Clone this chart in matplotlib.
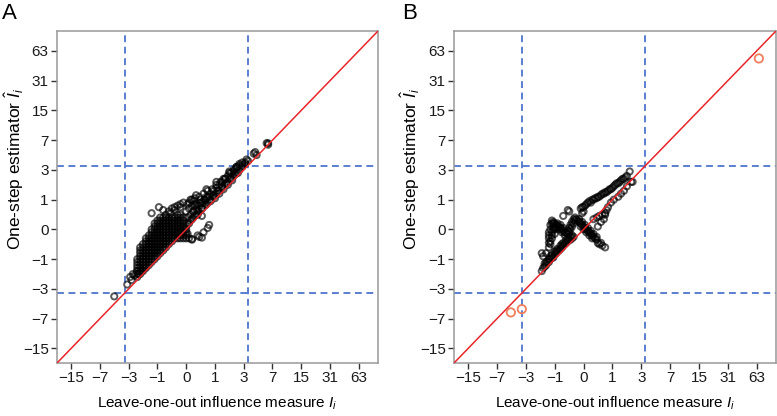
import numpy as np
import matplotlib
matplotlib.use('Agg')
import matplotlib.pyplot as plt

plt.rcParams['font.family'] = ['Liberation Sans', 'DejaVu Sans']
plt.rcParams['mathtext.fontset'] = 'custom'
plt.rcParams['mathtext.rm'] = 'Liberation Sans'
plt.rcParams['mathtext.it'] = 'Liberation Sans:italic'

# tick values on both axes
ticks = [-15, -7, -3, -1, 0, 1, 3, 7, 15, 31, 63]
cutoff = 3.4

# panel A, dense cloud: x of each column and the y values read in that column
a_cloud_x = [-2.25, -2.03, -1.83, -1.64, -1.46, -1.30, -1.14, -1.00, -0.87,
             -0.74, -0.63, -0.52, -0.41, -0.32, -0.23, -0.15, -0.07, 0.0]
a_cloud_y = [
    [-2.03, -1.83, -1.64, -1.46, -1.30, -1.14, -1.0],
    [-1.83, -1.64, -1.46, -1.30, -1.14, -1.0, -0.87, -0.74, -0.63, -0.52],
    [-1.64, -1.46, -1.30, -1.14, -1.0, -0.87, -0.74, -0.63, -0.52, -0.41],
    [-1.46, -1.30, -1.14, -1.0, -0.87, -0.74, -0.63, -0.52, -0.41, -0.32, -0.23],
    [-1.30, -1.14, -1.0, -0.87, -0.74, -0.63, -0.52, -0.41, -0.32, -0.23, -0.15],
    [-1.14, -1.0, -0.87, -0.74, -0.63, -0.52, -0.41, -0.32, -0.23, -0.15, -0.07, 0.0],
    [-1.0, -0.87, -0.74, -0.63, -0.52, -0.41, -0.32, -0.23, -0.15, -0.07, 0.0, 0.07, 0.15],
    [-0.87, -0.74, -0.63, -0.52, -0.41, -0.32, -0.23, -0.15, -0.07, 0.0, 0.07, 0.15, 0.23],
    [-0.74, -0.63, -0.52, -0.41, -0.32, -0.23, -0.15, -0.07, 0.0, 0.07, 0.15, 0.23, 0.32],
    [-0.63, -0.52, -0.41, -0.32, -0.23, -0.15, -0.07, 0.0, 0.07, 0.15, 0.23, 0.32],
    [-0.52, -0.41, -0.32, -0.23, -0.15, -0.07, 0.0, 0.07, 0.15, 0.23, 0.32, 0.41],
    [-0.41, -0.32, -0.23, -0.15, -0.07, 0.0, 0.07, 0.15, 0.23, 0.32],
    [-0.32, -0.23, -0.15, -0.07, 0.0, 0.07, 0.15, 0.23, 0.32],
    [-0.23, -0.15, -0.07, 0.0, 0.07, 0.15, 0.23, 0.32],
    [-0.23, -0.15, -0.07, 0.0, 0.07, 0.15, 0.23, 0.32, 0.41],
    [-0.23, -0.15, -0.07, 0.0, 0.07, 0.15, 0.23, 0.32, 0.41],
    [-0.23, -0.15, -0.07, 0.0, 0.07, 0.15, 0.23, 0.32],
    [-0.23, -0.15, -0.07, 0.0, 0.07],
]

# panel A, the other points (tails, outliers, upper band)
a_x = [-4.66, -3.14, -2.73, -2.61, -2.25, -2.86, -2.48, -2.14, -1.93, -1.73,
       0.07, 0.15, 0.035,
       0.37, 0.52, 0.68, 0.32, 0.46, 0.74, 0.46, 0.15,
       -1.30, -0.93, -0.74, -0.32, -0.15,
       -0.52, -0.41, -0.32, -0.23, -0.15, -0.07, -0.46,
       0.0, 0.035, 0.07, 0.11, 0.15, 0.19, 0.23, 0.27, 0.32, 0.37, 0.41, 0.46, 0.52, 0.57, 0.63,
       0.68, 0.74, 0.80, 0.87, 0.93, 1.0, 1.07, 1.14, 1.22, 1.30, 1.38, 1.46, 1.55, 1.64, 1.73,
       1.83, 1.93, 2.03, 2.14, 2.25, 2.36, 2.48, 2.61, 2.86, 3.14, 3.44, 3.29, 2.86,
       0.15, 0.27, 0.63, 1.07, 1.46, 1.83, 2.36,
       0.07, 0.15, 0.23, 0.32,
       0.23, 0.41, 0.52, 0.63, 0.07, 0.19,
       0.035, 0.035, 0.110, 0.110, 0.189, 0.189, 0.274, 0.274, 0.366, 0.366, 0.464, 0.464,
       0.569, 0.569, 0.682, 0.682, 0.803, 0.803, 0.932, 0.932, 1.071, 1.071, 1.219, 1.219,
       1.378, 1.378, 1.549, 1.549, 1.732, 1.732, 1.928, 1.928, 2.138, 2.138, 2.364, 2.364,
       2.605, 2.605, 2.864, 3.141,
       4.28, 4.10, 4.46, 5.96, 6.21, 6.21]
a_y = [-3.76, -2.61, -2.25, -1.83, -1.64, -2.03, -1.93, -1.83, -1.64, -1.46,
       -0.23, -0.27, -0.11,
       -0.19, -0.07, 0.035, -0.15, 0.37, 0.11, -0.21, -0.25,
       0.46, 0.68, 0.57, 0.57, 0.68,
       0.52, 0.63, 0.68, 0.74, 0.80, 0.87, 0.46,
       0.52, 0.80, 0.63, 1.0, 0.74, 0.52, 1.07, 0.80, 0.57, 1.14, 0.87, 0.63, 1.30, 1.0, 0.80,
       1.46, 1.14, 0.93, 1.55, 1.22, 1.07, 1.83, 1.46, 1.30, 2.03, 1.73, 1.55, 2.25, 1.93, 1.83,
       2.73, 2.36, 2.14, 2.86, 2.61, 3.14, 2.73, 3.60, 3.29, 3.76, 3.93, 4.10, 3.76,
       1.0, 1.22, 1.55, 2.03, 2.25, 2.86, 3.29,
       0.15, 0.27, 0.37, 0.41,
       0.74, 1.0, 0.87, 1.14, 0.87, 0.93,
       0.149, 0.320, 0.231, 0.414, 0.320, 0.516, 0.414, 0.625, 0.516, 0.741, 0.625, 0.866,
       0.741, 1.0, 0.866, 1.144, 1.0, 1.297, 1.144, 1.462, 1.297, 1.639, 1.462, 1.828,
       1.639, 2.031, 1.828, 2.249, 2.031, 2.482, 2.249, 2.732, 2.482, 3.0, 2.732, 3.287,
       3.0, 3.438, 3.438, 3.595,
       5.06, 4.86, 4.66, 6.46, 6.46, 6.21]

# panel B: black points and the three highlighted (orange) points
b_x = [-1.73, -1.64, -1.55, -1.46, -1.38, -1.30, -1.22, -1.14, -1.07, -1.00, -0.93, -0.87, -0.80,
       -0.74, -0.68, -0.63, -0.57, -0.52, -0.46, -0.41, -0.37, -0.32, -0.27,
       -1.46, -1.30, -1.14, -1.00, -0.87, -0.74, -0.63, -0.52,
       -1.55, -1.22, -0.93, -0.68, -0.46, -0.37, -0.32,
       -1.64, -1.73, -1.46, -1.30,
       -1.22, -1.22, -1.14, -1.14, -1.14, -1.07, -1.07, -1.07, -1.07, -1.14, -1.30, -1.30,
       -1.30, -1.30, -1.22, -1.22, -1.00, -1.00, -1.14,
       -1.00, -0.93, -0.87, -0.80, -0.74, -0.68, -0.63, -0.57, -0.52, -0.46,
       -0.93, -0.80, -0.68, -0.57, -0.87, -0.74, -0.63,
       -0.41, -0.37, -0.32, -0.27, -0.23, -0.19,
       -0.46, -0.41, -0.37, -0.32, -0.27, -0.23,
       -0.15, -0.11, -0.07, -0.035, 0.0, 0.035, 0.07, 0.11, 0.15, 0.19, 0.23, 0.27, 0.32, 0.37, 0.41, 0.46,
       -0.11, -0.035, 0.035, 0.11, 0.19, 0.27, -0.07, 0.0, 0.07, 0.15, 0.23,
       0.37, 0.52, 0.68, 0.57,
       -0.63, -0.46, -0.41,
       0.0, 0.07, 0.15, 0.19, 0.23, 0.32, 0.37, 0.41, 0.52, 0.63, 0.68, 0.80, 0.87, 1.0, 1.14, 1.22,
       1.38, 1.55, 1.73, 2.03, 2.25,
       0.11, 0.27, 0.46, 0.57, 0.74, 0.93, 1.07, 1.30, 1.46, 1.64, 1.83,
       -0.07, -0.035, 0.035, -0.035, 0.0,
       0.27, 0.37, 0.46, 0.57, 0.68, 0.74, 0.80, 0.93, 1.07, 1.30, 1.46, 1.64, 1.83, 2.14,
       0.41, 0.52, 0.63, 0.68]
b_y = [-1.64, -1.46, -1.38, -1.30, -1.14, -1.14, -1.00, -0.93, -0.93, -0.80, -0.74, -0.68, -0.63,
       -0.57, -0.52, -0.46, -0.41, -0.37, -0.32, -0.27, -0.27, -0.23, -0.19,
       -1.14, -1.00, -0.80, -0.68, -0.57, -0.46, -0.37, -0.27,
       -1.22, -0.87, -0.63, -0.41, -0.23, -0.19, -0.149,
       -0.87, -0.74, -0.74, -0.52,
       -0.41, -0.32, -0.23, -0.15, -0.07, 0.0, 0.07, 0.15, 0.19, 0.15, -0.23, -0.07,
       -0.37, -0.15, 0.0, 0.11, 0.0, -0.11, 0.23,
       0.15, 0.11, 0.07, 0.07, 0.035, 0.0, -0.035, -0.07, -0.07, -0.11,
       0.035, 0.0, -0.07, -0.149, 0.149, 0.11, 0.035,
       -0.07, 0.0, 0.07, 0.15, 0.23, 0.27,
       -0.035, 0.035, 0.11, 0.19, 0.27, 0.32,
       0.23, 0.19, 0.15, 0.11, 0.07, 0.035, 0.0, -0.035, -0.07, -0.11, -0.15, -0.19, -0.23, -0.27, -0.37, -0.41,
       0.27, 0.19, 0.11, 0.035, -0.035, -0.11, 0.07, 0.0, -0.07, -0.149, -0.231,
       -0.19, -0.37, -0.52, -0.46,
       0.37, 0.57, 0.52,
       0.68, 0.80, 0.93, 0.87, 1.0, 1.07, 1.07, 1.14, 1.22, 1.30, 1.38, 1.46, 1.55, 1.64, 1.83, 1.93,
       2.03, 2.25, 2.36, 2.86, 2.03,
       0.866, 1.0, 1.144, 1.297, 1.378, 1.549, 1.732, 1.928, 2.138, 2.249, 2.482,
       0.63, 0.68, 0.74, 0.46, 0.52,
       0.27, 0.32, 0.37, 0.41, 0.46, 0.57, 0.68, 0.87, 1.0, 1.14, 1.30, 1.46, 1.73, 2.03,
       0.07, 0.19, 0.27, 0.41]
b_out_x = [66.6, -4.74, -3.41]
b_out_y = [52.8, -5.92, -5.41]


def fwd(v):
    v = np.asarray(v, dtype=float)
    return np.sign(v) * np.log2(np.abs(v) + 1)


def inv(t):
    t = np.asarray(t, dtype=float)
    return np.sign(t) * (2 ** np.abs(t) - 1)


# flatten the cloud columns
cloud_x = [x for x, col in zip(a_cloud_x, a_cloud_y) for _ in col]
cloud_y = [y for col in a_cloud_y for y in col]

lim = (-21.5, 101)

fig = plt.figure(figsize=(7.77, 4.16), dpi=100)
ax_a = fig.add_axes([0.0734, 0.1274, 0.4131, 0.7981])
ax_b = fig.add_axes([0.5843, 0.1274, 0.4144, 0.7981])

for ax, label in [(ax_a, 'A'), (ax_b, 'B')]:
    ax.set_xscale('function', functions=(fwd, inv))
    ax.set_yscale('function', functions=(fwd, inv))
    ax.set_xlim(lim)
    ax.set_ylim(lim)
    ax.set_xticks(ticks)
    ax.set_yticks(ticks)
    lbls = [str(t).replace('-', '\u2212') for t in ticks]
    ax.set_xticklabels(lbls)
    ax.set_yticklabels(lbls)
    ax.minorticks_off()
    ax.tick_params(length=4, width=1, color='#333333', labelsize=11, pad=2,
                   labelcolor='#1a1a1a')
    for s in ax.spines.values():
        s.set_color('#999999')
        s.set_linewidth(1.1)
    for c in (-cutoff, cutoff):
        ax.axvline(c, color='#2f5cc2', lw=1.1, ls=(0, (4.5, 3)), zorder=1)
        ax.axhline(c, color='#2f5cc2', lw=1.1, ls=(0, (4.5, 3)), zorder=1)
    ax.axline((0, 0), (63, 63), color='#e8262a', lw=1.1, zorder=3)
    ax.set_xlabel(r'Leave-one-out influence measure $I_i$', fontsize=11, labelpad=7)
    ax.set_ylabel(r'One-step estimator $\hat{I}_i$', fontsize=12.5)
    ax.yaxis.set_label_coords(-0.098, 0.585)
    ax.text(-0.172 if label == 'A' else -0.16, 1.02, label, transform=ax.transAxes,
            fontsize=16, va='bottom', ha='left')

pt = dict(s=20, facecolors='none', edgecolors='black', linewidths=1.4, alpha=0.65, zorder=2)
ax_a.scatter(cloud_x, cloud_y, **pt)
ax_a.scatter(a_x, a_y, **pt)
ax_b.scatter(b_x, b_y, **pt)
ax_b.scatter(b_out_x, b_out_y, s=36, facecolors='none', edgecolors='#f07f5d', linewidths=1.3,
             zorder=4)

fig.savefig('out.png', dpi=100)
